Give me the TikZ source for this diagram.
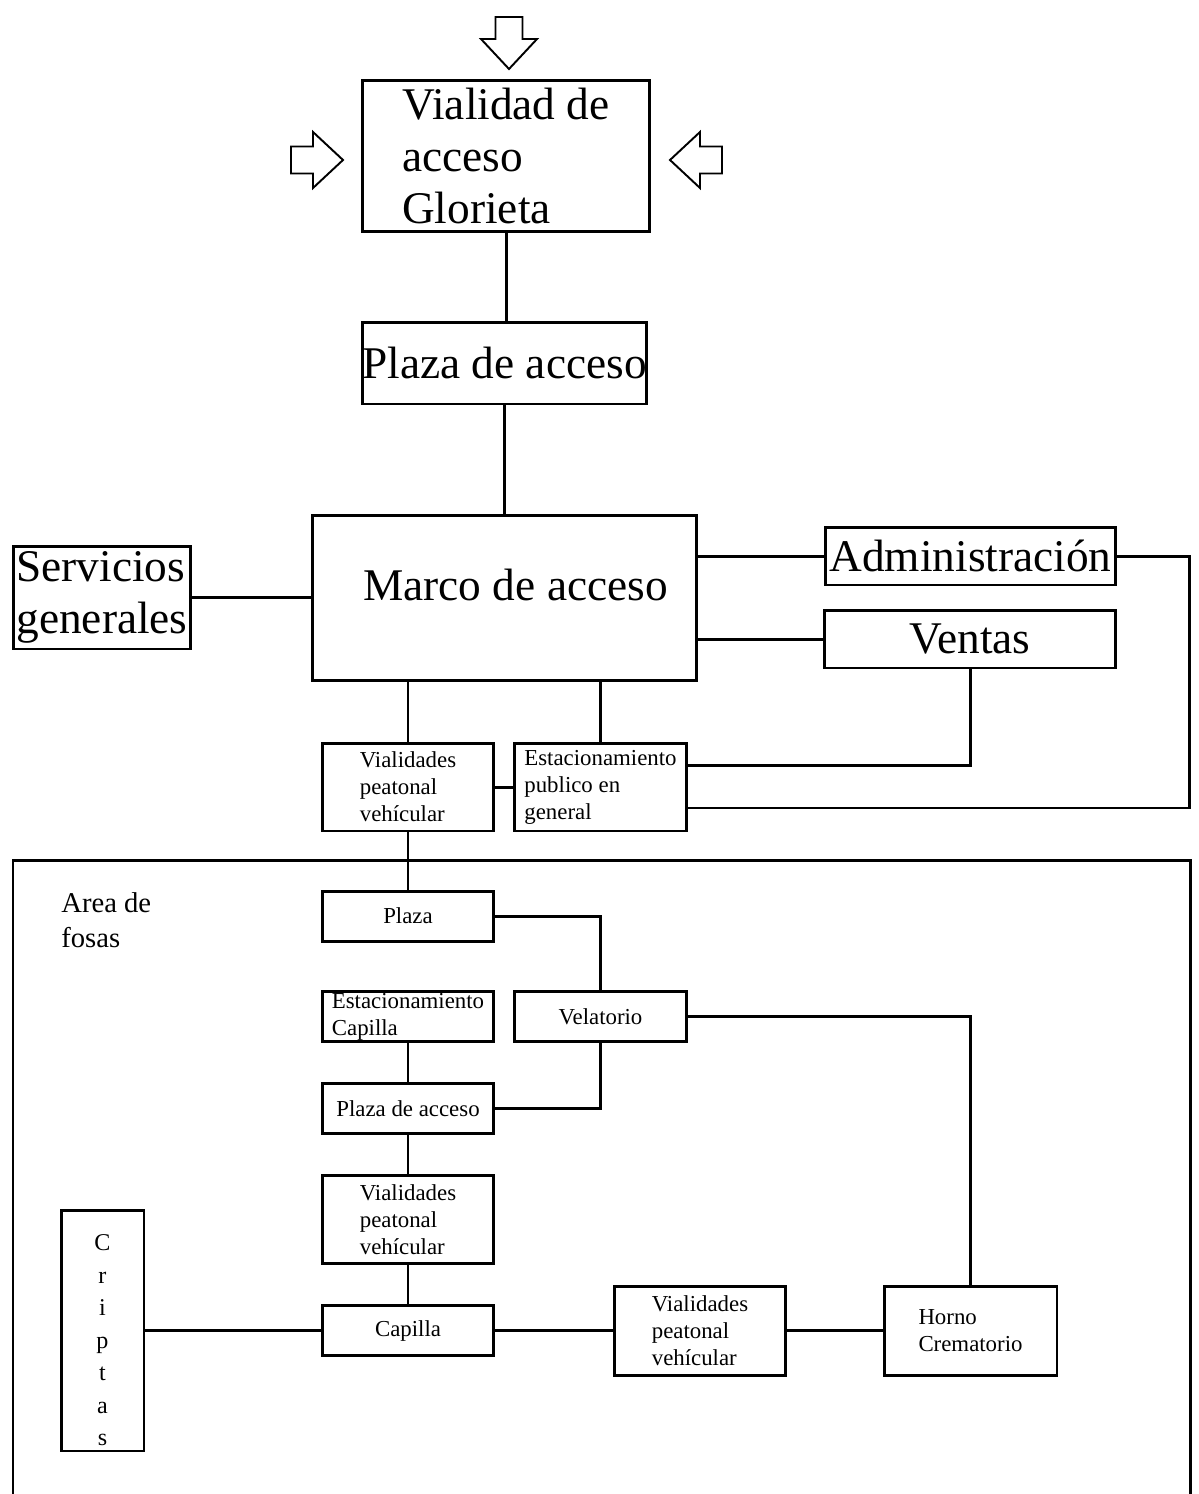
\documentclass[tikz,border=0pt]{standalone}
\usepackage{fontspec}
\setmainfont{Liberation Serif}
\usepackage{tikz}

\newcommand{\letragrande}{\fontsize{25.8}{29.6}\selectfont}
\newcommand{\letrachica}{\fontsize{13}{15.4}\selectfont}

\begin{document}
\begin{tikzpicture}[x=0.02cm,y=-0.02cm,
    caja/.style={draw,line width=1.7pt,inner sep=0pt},
    grande/.style={caja,font=\letragrande,align=left},
    chica/.style={caja,font=\letrachica,align=left,minimum width=3.44cm},
    linea/.style={line width=1.7pt},
    flecha/.style={line width=1.1pt,line join=miter}]

    \useasboundingbox (0,0) rectangle (1199,1494);

    \foreach \ang/\px/\py in {0/509/69, 90/343/160, -90/670/160}{% the three
      \draw[flecha,shift={(\px,\py)},rotate=\ang]% hollow arrows
        (0,0) -- (-28,-30) -- (-13.5,-30) -- (-13.5,-52) -- (13.5,-52)
        -- (13.5,-30) -- (28,-30) -- cycle;
    }

    \node[grande,minimum width=5.76cm,minimum height=3.04cm] (glorieta) at (506,156)
        {Vialidad de\\acceso\\Glorieta};
    \node[grande,minimum width=5.70cm,minimum height=1.64cm] (plazaacceso) at (504.5,363)
        {Plaza de acceso};
    \node[caja,minimum width=7.70cm,minimum height=3.32cm,
        label={[font=\letragrande,xshift=0.22cm,yshift=0.26cm]center:Marco de acceso}]
        (marco) at (504.5,598) {};
    \node[grande,minimum width=3.56cm,minimum height=2.06cm] (servicios) at (102,597.5)
        {Servicios\\generales};
    \node[grande,minimum width=5.82cm,minimum height=1.16cm] (admin) at (970.5,556)
        {Administración};
    \node[grande,minimum width=5.84cm,minimum height=1.16cm] (ventas) at (970,639)
        {Ventas};

    \node[chica,minimum height=1.76cm] (vialidades) at (408,787)
        {Vialidades\\peatonal\\vehícular};
    \node[chica,minimum height=1.76cm] (estacionamiento) at (600.5,787)
        {Estacionamiento\\publico en\\general};
    \path (admin.east) ++(72,0) coordinate (esquina);
          % corner of the line from Administracion

    % Area de fosas
    \draw[linea] (13,1500) |- (1190,860) -- (1190,1500);
    \node[anchor=north west,inner sep=0pt,align=left,font=\fontsize{16.3}{20}\selectfont]
        (fosas) at (61,892) {Area de\\fosas};

    \node[chica,minimum height=1cm] (plaza) at (408,916) {Plaza};
    \node[chica,minimum height=1cm] (estcapilla) at (408,1016.5) {Estacionamiento\\Capilla};
    \node[chica,minimum height=1cm] (velatorio) at (600.5,1016.5) {Velatorio};
    \node[chica,minimum height=1cm] (plazacapilla) at (408,1108.5) {Plaza de acceso};
    \node[chica,minimum height=1.76cm] (vialcapilla) at (408,1219.5)
        {Vialidades\\peatonal\\vehícular};
    \node[chica,minimum height=1cm] (capilla) at (408,1330.5) {Capilla};
    \node[chica,minimum height=1.78cm] (vialhorno) at (700,1330.5)
        {Vialidades\\peatonal\\vehícular};
    \node[chica,minimum height=1.78cm,minimum width=3.46cm] (horno) at (970.5,1330.5)
        {Horno\\Crematorio};
    \node[caja,minimum width=1.66cm,minimum height=4.82cm,
        label={[align=center,font=\fontsize{13.7}{18.5}\selectfont,yshift=-0.2cm]center:C\\r\\i\\p\\t\\a\\s}]
        (criptas) at (102.5,1330.5) {};

    \draw[linea] (glorieta.south) -- (glorieta.south |- plazaacceso.north);
    \draw[linea] (plazaacceso.south) -- (marco.north);
    \draw[linea] (servicios.east) -- (servicios.east -| marco.west);
    \draw[linea] (admin.west -| marco.east) -- (admin.west);
    \draw[linea] (ventas.west -| marco.east) -- (ventas.west);
    \draw[linea] (admin.east) -- (esquina) |- ([yshift=-0.42cm]estacionamiento.east);
    \draw[linea] (ventas.south) |- ([yshift=0.44cm]estacionamiento.east);
    \draw[linea] (vialidades.north |- marco.south) -- (vialidades.north);
    \draw[linea] (estacionamiento.north |- marco.south) -- (estacionamiento.north);
    \draw[linea] (vialidades) -- (estacionamiento);
    \draw[linea] (vialidades) -- (plaza);
    \draw[linea] (plaza.east) -| (velatorio.north);
    \draw[linea] (estcapilla) -- (plazacapilla);
    \draw[linea] (velatorio.south) |- (plazacapilla.east);
    \draw[linea] (velatorio.east) -| (horno.north);
    \draw[linea] (plazacapilla) -- (vialcapilla);
    \draw[linea] (vialcapilla) -- (capilla);
    \draw[linea] (criptas) -- (capilla);
    \draw[linea] (capilla) -- (vialhorno);
    \draw[linea] (vialhorno) -- (horno);
\end{tikzpicture}
\end{document}
